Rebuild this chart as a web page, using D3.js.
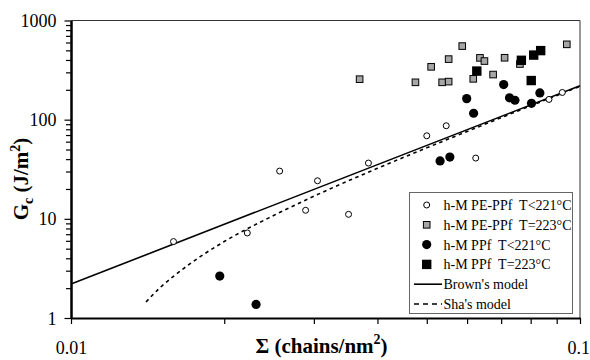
<!DOCTYPE html>
<html><head><meta charset="utf-8">
<script src="https://cdn.jsdelivr.net/npm/d3@7"></script>
<style>
body{margin:0;background:#fff}
svg{font-family:"Liberation Serif","Times New Roman",serif;display:block}
</style>
</head><body><svg id="c" width="590" height="360"></svg>
<script>
// ---- data ----
const peLowX  = [0.0159,0.0222,0.0257,0.0289,0.0305,0.0351,0.0384,0.0500,0.0546,0.0624,0.0869,0.0923];
const peLowY  = [5.9,7.2,30.3,12.2,24.2,11.1,36.5,68.8,86.8,41.0,160,188];
const peHighX = [0.0369,0.0475,0.0510,0.0536,0.0552,0.0552,0.0587,0.0617,0.0636,0.0649,0.0675,0.0711,0.0762,0.0942];
const peHighY = [256,238,341,238,242,408,552,258,420,390,285,421,364,575];
const ppLowX  = [0.0196,0.0231,0.0531,0.0555,0.0599,0.0618,0.0708,0.0727,0.0745,0.0803,0.0834];
const ppLowY  = [2.65,1.37,38.4,42.0,163,116,226,166,157,146,186];
const ppHighX = [0.0627,0.0767,0.0811,0.0837,0.0802];
const ppHighY = [309,397,448,497,248];
const brownX  = [0.01,0.1];
const brownY  = [2.2,220];
const shaX    = [0.01404,0.015,0.016,0.018,0.02,0.025,0.03,0.04,0.05,0.06,0.08,0.1];
const shaY    = [1.45,2.05,2.7,4.2,5.9,10.8,16.9,32.3,52,76,138,217];
const xTickVals = [0.01,0.02,0.03,0.04,0.05,0.06,0.07,0.08,0.09,0.1];
const xTickLabels = ["0.01","","","","","","","","","0.1"];
const yMajor = [1,10,100,1000];
const yMajorLabels = ["1","10","100","1000"];
const yMinor = [2,3,4,5,6,7,8,9,20,30,40,50,60,70,80,90,200,300,400,500,600,700,800,900];
const legendLabels = ["h-M PE-PPf  T<221°C","h-M PE-PPf  T=223°C","h-M PPf  T<221°C","h-M PPf  T=223°C","Brown's model","Sha's model"];

// ---- layout ----
const L=71, R=580, T=20.5, B=318;
const svg = d3.select("#c");
const x = d3.scaleLog().domain([0.01,0.1]).range([L,R]);
const y = d3.scaleLog().domain([1,1000]).range([B,T]);
const zip = (a,b)=>a.map((v,i)=>[v,b[i]]);

// frame top/right
svg.append("path").attr("d",`M${L},${T}H${R}V${B}`).attr("fill","none").attr("stroke","#333").attr("stroke-width",1);

// model lines
const line = d3.line().x(d=>x(d[0])).y(d=>y(d[1]));
svg.append("path").datum(zip(brownX,brownY)).attr("d",line).attr("fill","none").attr("stroke","#000").attr("stroke-width",1.6);
svg.append("path").datum(zip(shaX,shaY)).attr("d",line.curve(d3.curveMonotoneX)).attr("fill","none").attr("stroke","#000").attr("stroke-width",1.6).attr("stroke-dasharray","3.5,3.5");

// points
const g = svg.append("g");
g.selectAll(".pl").data(zip(peLowX,peLowY)).join("circle").attr("cx",d=>x(d[0])).attr("cy",d=>y(d[1])).attr("r",3).attr("fill","#fff").attr("stroke","#000").attr("stroke-width",1);
g.selectAll(".ph").data(zip(peHighX,peHighY)).join("rect").attr("x",d=>x(d[0])-3.3).attr("y",d=>y(d[1])-3.3).attr("width",6.6).attr("height",6.6).attr("fill","#a6a6a6").attr("stroke","#000").attr("stroke-width",1);
g.selectAll(".ql").data(zip(ppLowX,ppLowY)).join("circle").attr("cx",d=>x(d[0])).attr("cy",d=>y(d[1])).attr("r",4.6).attr("fill","#000");
g.selectAll(".qh").data(zip(ppHighX,ppHighY)).join("rect").attr("x",d=>x(d[0])-4.7).attr("y",d=>y(d[1])-4.7).attr("width",9.4).attr("height",9.4).attr("fill","#000");

// axes
const xAxis = d3.axisBottom(x).tickValues(xTickVals).tickSize(6).tickSizeOuter(0).tickPadding(17)
  .tickFormat((d,i)=>xTickLabels[i]);
const gx = svg.append("g").attr("transform",`translate(0,${B})`).call(xAxis);
const yAxisMinor = d3.axisLeft(y).tickValues(yMinor).tickSize(5).tickSizeOuter(0).tickFormat("");
const gy2 = svg.append("g").attr("transform",`translate(${L},0)`).call(yAxisMinor);
const yAxis = d3.axisLeft(y).tickValues(yMajor).tickSize(6.5).tickSizeOuter(0).tickPadding(8)
  .tickFormat((d,i)=>yMajorLabels[i]);
const gy = svg.append("g").attr("transform",`translate(${L},0)`).call(yAxis);
[gx,gy,gy2].forEach(a=>{
  a.select(".domain").attr("stroke","#000").attr("stroke-width",2);
  a.selectAll(".tick line").attr("stroke","#000").attr("stroke-width",1.2);
  a.selectAll("text").attr("font-family","Liberation Serif, serif").attr("font-size",18).attr("fill","#000");
});
gy.selectAll("text").attr("dy","0.34em");
// keep last x label inside the picture
gx.selectAll(".tick text").filter((d,i)=>i===xTickVals.length-1).attr("text-anchor","end").attr("x",9.5);

// axis titles
const xt = svg.append("text").attr("x",321.5).attr("y",353).attr("text-anchor","middle")
  .attr("font-weight","bold").attr("font-size",21);
xt.append("tspan").text("Σ (chains/nm");
xt.append("tspan").attr("dy",-9).attr("font-size",14).text("2");
xt.append("tspan").attr("dy",9).text(")");

const yt = svg.append("text").attr("transform","translate(28,179) rotate(-90)").attr("text-anchor","middle")
  .attr("font-weight","bold").attr("font-size",21);
yt.append("tspan").text("G");
yt.append("tspan").attr("dy",5).attr("font-size",14).text("c");
yt.append("tspan").attr("dy",-5).text(" (J/m");
yt.append("tspan").attr("dy",-8).attr("font-size",14).text("2");
yt.append("tspan").attr("dy",8).text(")");

// legend
const lg = svg.append("g");
lg.append("rect").attr("x",409.5).attr("y",192.5).attr("width",163).attr("height",121).attr("fill","#fff").attr("stroke","#666").attr("stroke-width",1);
const rowY = i => 205 + i*19.8;
const sx = 426.7;
lg.append("circle").attr("cx",sx).attr("cy",rowY(0)).attr("r",3).attr("fill","#fff").attr("stroke","#000");
lg.append("rect").attr("x",sx-3.3).attr("y",rowY(1)-3.3).attr("width",6.6).attr("height",6.6).attr("fill","#a6a6a6").attr("stroke","#000");
lg.append("circle").attr("cx",sx).attr("cy",rowY(2)).attr("r",4.6).attr("fill","#000");
lg.append("rect").attr("x",sx-4.7).attr("y",rowY(3)-4.7).attr("width",9.4).attr("height",9.4).attr("fill","#000");
lg.append("line").attr("x1",414).attr("x2",442).attr("y1",rowY(4)).attr("y2",rowY(4)).attr("stroke","#000").attr("stroke-width",1.6);
lg.append("line").attr("x1",414).attr("x2",442).attr("y1",rowY(5)).attr("y2",rowY(5)).attr("stroke","#000").attr("stroke-width",1.6).attr("stroke-dasharray","5,4");
lg.selectAll(".lt").data(legendLabels).join("text").attr("x",443.5).attr("y",(d,i)=>rowY(i)+5)
  .attr("font-size",14).attr("style","white-space:pre").text(d=>d);
</script>
</body></html>
